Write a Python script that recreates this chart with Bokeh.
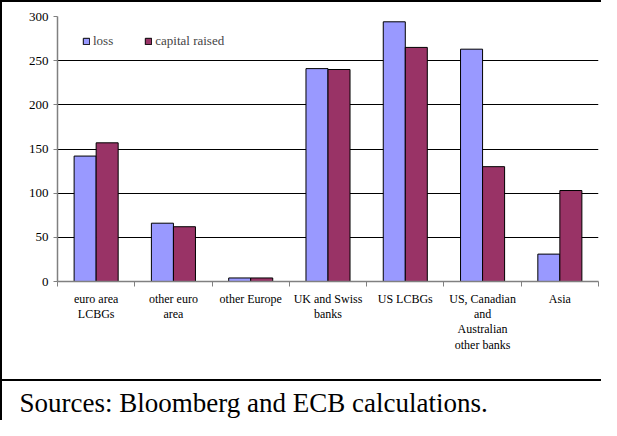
import numpy as np
from bokeh.plotting import figure
from bokeh.layouts import column
from bokeh.models import (ColumnDataSource, Range1d, FixedTicker, LinearAxis, Grid,
                          Legend, LegendItem, Title)
from bokeh.transform import dodge
from bokeh.embed import file_html
from bokeh.resources import INLINE

categories = ["euro area\nLCBGs", "other euro\narea", "other Europe",
              "UK and Swiss\nbanks", "US LCBGs",
              "US, Canadian\nand\nAustralian\nother banks", "Asia"]
loss = [142, 66, 4, 241, 294, 263, 31]
capital_raised = [157, 62, 4, 240, 265, 130, 103]
y_ticks = [0, 50, 100, 150, 200, 250, 300]
source_note = "Sources: Bloomberg and ECB calculations."

FONT = "Liberation Serif"
LOSS_C = "#9999FF"
CAP_C = "#993366"
AXIS_C = "#808080"
LEFT = 55

n = len(categories)
centers = [i + 0.5 for i in range(n)]
src = ColumnDataSource(dict(x=centers, loss=loss, cap=capital_raised))

p = figure(width=601, height=381, output_backend="svg", toolbar_location=None,
           x_range=Range1d(0, n), y_range=Range1d(0, 300),
           x_axis_type=None, y_axis_type=None,
           min_border_left=LEFT, min_border_right=5, min_border_top=14,
           min_border_bottom=102,
           styles={"border-left": "2px solid black", "border-top": "2px solid black",
                   "border-bottom": "2px solid black"})
p.outline_line_color = None
p.background_fill_color = "white"
p.border_fill_color = "white"

yaxis = LinearAxis(ticker=FixedTicker(ticks=y_ticks))
yaxis.axis_line_color = AXIS_C
yaxis.axis_line_width = 1.5
yaxis.major_tick_line_color = AXIS_C
yaxis.major_tick_in = 0
yaxis.major_tick_out = 4
yaxis.minor_tick_line_color = None
yaxis.major_label_text_font = FONT
yaxis.major_label_text_font_size = "13px"
yaxis.major_label_text_color = "black"
yaxis.major_label_standoff = 5
p.add_layout(yaxis, "left")

xaxis = LinearAxis(ticker=FixedTicker(ticks=centers, minor_ticks=list(range(n + 1))))
xaxis.axis_line_color = AXIS_C
xaxis.axis_line_width = 1.5
xaxis.major_tick_line_color = None
xaxis.major_tick_in = 0
xaxis.major_tick_out = 0
xaxis.minor_tick_line_color = AXIS_C
xaxis.minor_tick_in = 0
xaxis.minor_tick_out = 5
xaxis.major_label_overrides = {c: lab for c, lab in zip(centers, categories)}
xaxis.major_label_text_font = FONT
xaxis.major_label_text_font_size = "12px"
xaxis.major_label_text_color = "black"
xaxis.major_label_text_line_height = 1.1
xaxis.major_label_standoff = 5
p.add_layout(xaxis, "below")

grid = Grid(dimension=1, ticker=FixedTicker(ticks=y_ticks[1:]),
            grid_line_color="black", grid_line_width=1)
p.add_layout(grid)

bw = 0.285
r1 = p.vbar(x=dodge("x", -bw / 2, range=p.x_range), top="loss", width=bw,
            source=src, fill_color=LOSS_C, line_color="black", line_width=1)
r2 = p.vbar(x=dodge("x", bw / 2, range=p.x_range), top="cap", width=bw,
            source=src, fill_color=CAP_C, line_color="black", line_width=1)

legend = Legend(items=[LegendItem(label="loss", renderers=[r1]),
                       LegendItem(label="capital raised", renderers=[r2])],
                orientation="horizontal", location=(25, 232))
legend.border_line_color = None
legend.background_fill_alpha = 0
legend.label_text_font = FONT
legend.label_text_font_size = "13px"
legend.glyph_width = 8
legend.glyph_height = 8
legend.label_height = 12
legend.label_standoff = 3
legend.spacing = 31
legend.padding = 0
legend.margin = 0
p.add_layout(legend, "center")

p2 = figure(width=601, height=39, output_backend="svg", toolbar_location=None,
            x_range=Range1d(0, 1), y_range=Range1d(0, 1),
            x_axis_type=None, y_axis_type=None,
            min_border_left=LEFT, min_border_right=5, min_border_top=36,
            min_border_bottom=0,
            styles={"border-left": "2px solid black"})
p2.outline_line_color = None
p2.grid.visible = False
p2.add_layout(Title(text=source_note, align="left", offset=19 - 2 - LEFT,
                    text_font=FONT, text_font_size="27px", text_font_style="normal",
                    text_color="black", standoff=0, vertical_align="bottom"), "above")

layout = column(p, p2, spacing=0)
open("out.html", "w").write(file_html(layout, INLINE))
